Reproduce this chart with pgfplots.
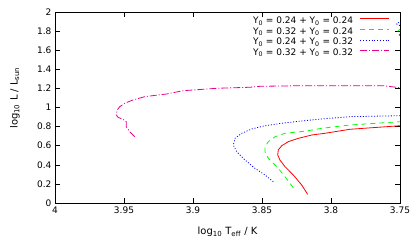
\documentclass[border=0pt]{standalone}
\usepackage{fontspec}
\setmainfont{DejaVu Sans}
\usepackage{pgfplots}
\pgfplotsset{compat=1.18}
\begin{document}
\begin{tikzpicture}
\begin{axis}[
  scale only axis, width=345bp, height=191bp,
  x dir=reverse, xmin=3.75, xmax=4, ymin=0, ymax=2,
  xtick={3.75,3.8,3.85,3.9,3.95,4},
  ytick={0,0.2,0.4,0.6,0.8,1,1.2,1.4,1.6,1.8,2},
  /pgf/number format/assume math mode=true,
  tick label style={font=\fontsize{9bp}{10bp}\selectfont},
  label style={font=\fontsize{9bp}{10bp}\selectfont},
  major tick length=5bp,
  tick align=inside,
  tick style={black, line width=0.6bp},
  axis line style={line width=0.8bp},
  xlabel={log\textsubscript{10} T\textsubscript{eff} / K},
  ylabel={log\textsubscript{10} L / L\textsubscript{sun}},
  every axis x label/.style={at={(axis description cs:0.5,-0.152)}, anchor=center},
  every axis y label/.style={at={(axis description cs:-0.116,0.55)}, rotate=90, anchor=center},
  legend cell align=right,
  legend plot pos=right,
  legend image code/.code={\draw[#1] (0bp,3bp) -- (29bp,3bp);},
  legend style={at={(1,1)}, anchor=north east, xshift=-10bp, yshift=-4.4bp,
    draw=none, fill=none, inner sep=0pt, row sep=0pt, column sep=7bp,
    font=\fontsize{9bp}{10bp}\selectfont,
    nodes={inner sep=0pt, text height=7bp, text depth=3.6bp}},
]
\addplot[red, line width=0.8bp] coordinates {
(3.8169,0.091) (3.8212,0.188) (3.8273,0.293) (3.8333,0.380) (3.8370,0.450)
(3.8386,0.503) (3.8382,0.555) (3.8357,0.600) (3.8309,0.642) (3.8237,0.677)
(3.8140,0.712) (3.8043,0.730) (3.7862,0.772) (3.75,0.809) (3.74,0.82)
(3.70,1.2) (3.745,1.70) (3.7505,1.76) (3.745,1.85)
};
\addlegendentry{Y\textsubscript{0} = 0.24 + Y\textsubscript{0} = 0.24}
\addplot[green, line width=0.8bp, dash pattern=on 5bp off 4bp] coordinates {
(3.8273,0.160) (3.8333,0.275) (3.8382,0.363) (3.8454,0.468) (3.8478,0.537)
(3.8478,0.590) (3.8454,0.642) (3.8406,0.694) (3.8333,0.730) (3.8188,0.752)
(3.8067,0.782) (3.7862,0.817) (3.75,0.851) (3.74,0.86)
(3.70,1.25) (3.745,1.74) (3.7515,1.80) (3.745,1.88)
};
\addlegendentry{Y\textsubscript{0} = 0.32 + Y\textsubscript{0} = 0.24}
\addplot[blue, line width=0.8bp, dash pattern=on 1bp off 1.8bp] coordinates {
(3.8418,0.223) (3.8478,0.293) (3.8551,0.363) (3.8623,0.450) (3.8683,0.537)
(3.8708,0.607) (3.8696,0.677) (3.8647,0.730) (3.8575,0.775) (3.8478,0.809)
(3.8357,0.835) (3.8212,0.859) (3.8067,0.880) (3.7862,0.904) (3.75,0.914)
(3.74,0.92) (3.70,1.3) (3.745,1.82) (3.7525,1.875) (3.745,1.95)
};
\addlegendentry{Y\textsubscript{0} = 0.24 + Y\textsubscript{0} = 0.32}
\addplot[magenta, line width=0.8bp, dash pattern=on 7bp off 2bp on 1bp off 2bp] coordinates {
(3.9422,0.694) (3.9459,0.747) (3.9483,0.799) (3.9483,0.851) (3.9507,0.876)
(3.9543,0.897) (3.9556,0.921) (3.9549,0.974) (3.9531,1.008) (3.9495,1.044)
(3.9435,1.079) (3.9350,1.113) (3.9254,1.131) (3.9193,1.141) (3.9070,1.176)
(3.8828,1.201) (3.8587,1.212) (3.8514,1.222) (3.8225,1.228) (3.7621,1.228)
(3.75,1.207) (3.74,1.19)
};
\addlegendentry{Y\textsubscript{0} = 0.32 + Y\textsubscript{0} = 0.32}
\end{axis}
\pgfresetboundingbox
\path ([shift={(-55bp,-46bp)}]current axis.south west) rectangle ([shift={(15bp,12bp)}]current axis.north east);
\end{tikzpicture}
\end{document}
